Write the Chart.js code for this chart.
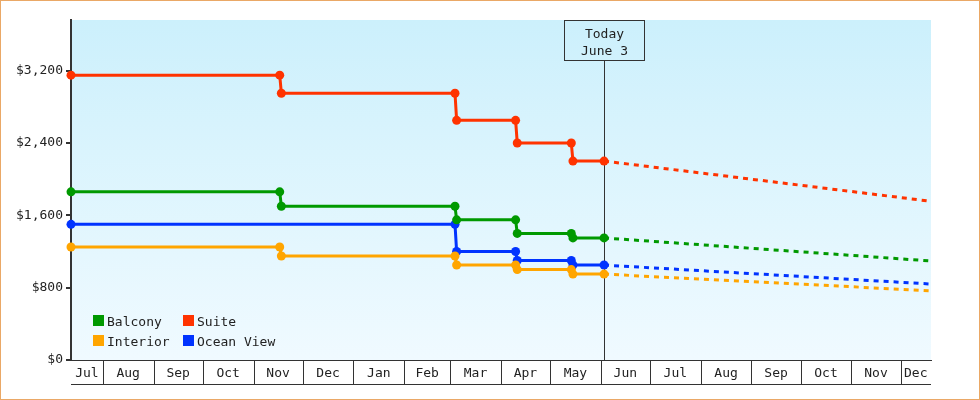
<!DOCTYPE html>
<html>
<head>
<meta charset="utf-8">
<title>Cabin price history</title>
<script src="https://cdn.jsdelivr.net/npm/chart.js@4.4.0/dist/chart.umd.min.js"></script>
<style>
  html, body { margin: 0; padding: 0; background: #fff; }
  .frame { width: 980px; height: 400px; box-sizing: border-box; border: 1px solid #eaa866; }
  canvas { display: block; }
</style>
</head>
<body>
<div class="frame"><canvas id="priceChart" width="978" height="398"></canvas></div>
<script>
// Cabins, in legend order
const cabinNames = ["Balcony", "Suite", "Interior", "Ocean View"];
const cabinColors = ["#009900", "#ff3300", "#ffa500", "#0033ff"];

// Axis range and the "today" marker
const axisStart = "2022-07-12T14:00:00Z";
const axisEnd = "2023-12-19T14:00:00Z";
const today = "2023-06-03";
const todayLabel = ["Today", "June 3"];

// Tick labels
const monthNames = ["Jan", "Feb", "Mar", "Apr", "May", "Jun", "Jul", "Aug", "Sep", "Oct", "Nov", "Dec"];
const yTicks = [0, 800, 1600, 2400, 3200];
const yMax = 3760;

// Price history
const balconyDates = [axisStart, "2022-11-17", "2022-11-18", "2023-03-04", "2023-03-05", "2023-04-10", "2023-04-11", "2023-05-14", "2023-05-15", today];
const balconyPrices = [1860, 1860, 1700, 1700, 1550, 1550, 1400, 1400, 1350, 1350];
const suiteDates = balconyDates;
const suitePrices = [3150, 3150, 2950, 2950, 2650, 2650, 2400, 2400, 2200, 2200];
const interiorDates = balconyDates;
const interiorPrices = [1250, 1250, 1150, 1150, 1050, 1050, 1000, 1000, 950, 950];
const oceanDates = [axisStart, "2023-03-04", "2023-03-05", "2023-04-10", "2023-04-11", "2023-05-14", "2023-05-15", today];
const oceanPrices = [1500, 1500, 1200, 1200, 1100, 1100, 1050, 1050];

// Forecast (today -> end of axis)
const forecastDates = [today, axisEnd];
const balconyForecast = [1350, 1095];
const suiteForecast = [2200, 1755];
const interiorForecast = [950, 765];
const oceanForecast = [1050, 840];

const epoch = Date.UTC(2022, 6, 1);
const dayOf = (s) => (Date.parse(s) - epoch) / 864e5;
const toPoints = (dates, vals) => dates.map((d, i) => ({ x: dayOf(d), y: vals[i] }));

const history = [
  toPoints(balconyDates, balconyPrices),
  toPoints(suiteDates, suitePrices),
  toPoints(interiorDates, interiorPrices),
  toPoints(oceanDates, oceanPrices),
];
const forecast = [
  toPoints(forecastDates, balconyForecast),
  toPoints(forecastDates, suiteForecast),
  toPoints(forecastDates, interiorForecast),
  toPoints(forecastDates, oceanForecast),
];

// Month cells along the x axis
const xMin = dayOf(axisStart);
const xMax = dayOf(axisEnd);
const monthCells = [];
const boundaries = [];
for (let y = 2022, m = 6; ; ) {
  const start = (Date.UTC(y, m, 1) - epoch) / 864e5;
  const ny = m === 11 ? y + 1 : y;
  const nm = (m + 1) % 12;
  const end = (Date.UTC(ny, nm, 1) - epoch) / 864e5;
  if (start >= xMax) break;
  if (start > xMin) boundaries.push(start);
  const a = Math.max(start, xMin), b = Math.min(end, xMax);
  monthCells.push({ mid: (a + b) / 2, name: monthNames[m] });
  y = ny; m = nm;
}

const FONT = "'DejaVu Sans Mono', monospace";
const INK = "#333";

// Plot background gradient
const backdrop = {
  id: "backdrop",
  beforeDraw(chart) {
    const { ctx, chartArea: a } = chart;
    const g = ctx.createLinearGradient(0, a.top, 0, a.bottom);
    g.addColorStop(0, "#ccf0fc");
    g.addColorStop(1, "#f0faff");
    ctx.save();
    ctx.fillStyle = g;
    ctx.fillRect(a.left, a.top, a.right - a.left, a.bottom - a.top);
    ctx.restore();
  },
};

// Today line with its label box
const todayMarker = {
  id: "todayMarker",
  beforeDatasetsDraw(chart) {
    const { ctx, chartArea: a, scales: { x } } = chart;
    const px = Math.round(x.getPixelForValue(dayOf(today))) + 0.5;
    const top = a.top + 0.5;
    ctx.save();
    ctx.strokeStyle = INK;
    ctx.lineWidth = 1;
    ctx.strokeRect(px - 40, top, 80, 40);
    ctx.beginPath();
    ctx.moveTo(px, top + 40);
    ctx.lineTo(px, a.bottom);
    ctx.stroke();
    ctx.fillStyle = "#222";
    ctx.font = "13px " + FONT;
    ctx.textAlign = "center";
    ctx.textBaseline = "alphabetic";
    ctx.fillText(todayLabel[0], px, a.top + 18);
    ctx.fillText(todayLabel[1], px, a.top + 35);
    ctx.restore();
  },
};

// Month boxes under the plot
const monthBoxes = {
  id: "monthBoxes",
  afterDraw(chart) {
    const { ctx, scales: { x } } = chart;
    ctx.save();
    ctx.strokeStyle = INK;
    ctx.lineWidth = 1;
    ctx.beginPath();
    boundaries.forEach((b) => {
      const px = Math.round(x.getPixelForValue(b)) + 0.5;
      ctx.moveTo(px, x.top);
      ctx.lineTo(px, x.bottom);
    });
    ctx.moveTo(x.left, x.bottom - 0.5);
    ctx.lineTo(x.right, x.bottom - 0.5);
    ctx.stroke();
    ctx.restore();
  },
};

// Legend in the lower left corner of the plot
const cornerLegend = {
  id: "cornerLegend",
  afterDraw(chart) {
    const { ctx, chartArea: a } = chart;
    ctx.save();
    ctx.font = "13px " + FONT;
    ctx.textBaseline = "alphabetic";
    cabinNames.forEach((name, i) => {
      const x = a.left + 22 + (i % 2) * 90;
      const y = a.bottom - 45 + Math.floor(i / 2) * 20;
      ctx.fillStyle = cabinColors[i];
      ctx.fillRect(x, y, 11, 11);
      ctx.fillStyle = "#222";
      ctx.fillText(name, x + 14, y + 11);
    });
    ctx.restore();
  },
};

const datasets = [];
cabinNames.forEach((name, i) => {
  datasets.push({
    label: name,
    data: history[i],
    borderColor: cabinColors[i],
    backgroundColor: cabinColors[i],
    borderWidth: 3,
    pointRadius: 4.5,
    pointHoverRadius: 4.5,
    pointBorderWidth: 0,
    pointBackgroundColor: cabinColors[i],
    tension: 0,
    clip: false,
  });
  datasets.push({
    label: name + " forecast",
    data: forecast[i],
    borderColor: cabinColors[i],
    borderWidth: 3,
    borderDash: [5, 5],
    pointRadius: 0,
    tension: 0,
  });
});

new Chart(document.getElementById("priceChart"), {
  type: "line",
  data: { datasets },
  plugins: [backdrop, todayMarker, monthBoxes, cornerLegend],
  options: {
    responsive: false,
    animation: false,
    events: [],
    devicePixelRatio: 1,
    layout: { padding: { top: 19, right: 48, bottom: 14, left: 10 } },
    plugins: { legend: { display: false }, tooltip: { enabled: false } },
    scales: {
      x: {
        type: "linear",
        min: xMin,
        max: xMax,
        afterFit: (s) => { s.height = 25; },
        afterBuildTicks: (s) => { s.ticks = monthCells.map((c) => ({ value: c.mid })); },
        grid: { display: false },
        border: { display: true, color: INK, width: 1 },
        ticks: {
          autoSkip: false,
          maxRotation: 0,
          minRotation: 0,
          padding: -2,
          color: "#222",
          font: { family: FONT, size: 13 },
          callback: (v) => {
            const c = monthCells.find((m) => Math.abs(m.mid - v) < 1e-6);
            return c ? c.name : "";
          },
        },
      },
      y: {
        min: 0,
        max: yMax,
        afterFit: (s) => { s.width = 60; },
        afterBuildTicks: (s) => { s.ticks = yTicks.map((v) => ({ value: v })); },
        grid: { drawOnChartArea: false, tickLength: 5, color: INK, lineWidth: 2 },
        border: { display: true, color: INK, width: 2 },
        ticks: {
          padding: 3,
          color: "#222",
          font: { family: FONT, size: 13 },
          callback: (v) => "$" + v.toLocaleString("en-US"),
        },
      },
    },
  },
});
</script>
</body>
</html>
